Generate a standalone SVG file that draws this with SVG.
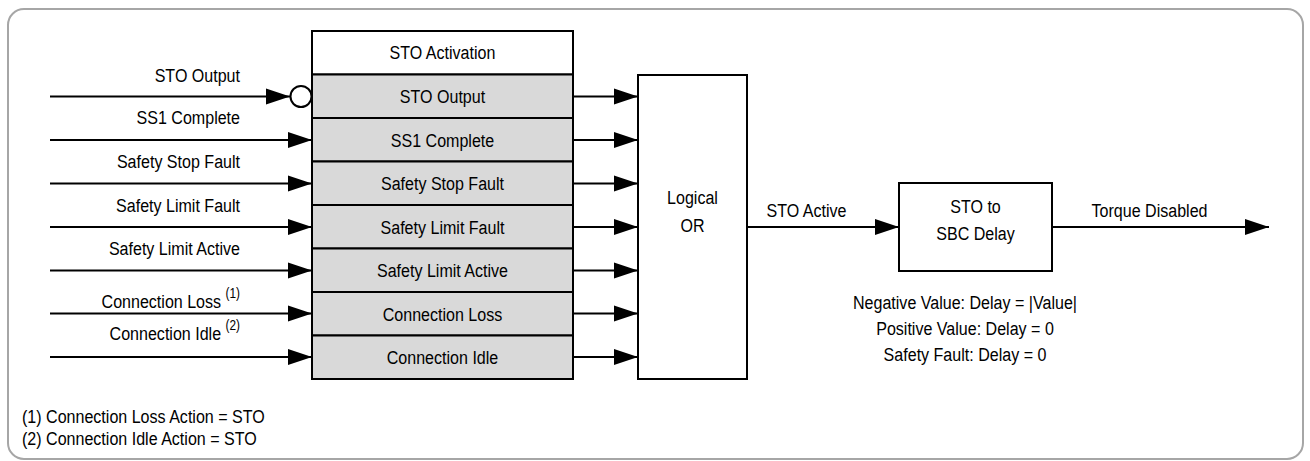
<svg xmlns="http://www.w3.org/2000/svg" width="1310" height="461" viewBox="0 0 1310 461">
<style>
text{font-family:"Liberation Sans",Arial,sans-serif;font-size:19px;fill:#000}
.c{text-anchor:middle}
.e{text-anchor:end}
.sup{font-size:14px}
.box{fill:#fff;stroke:#000;stroke-width:2}
.row{fill:#d9d9d9;stroke:#000;stroke-width:2}
.ln{stroke:#000;stroke-width:2;fill:none}
</style>
<defs>
<marker id="ah" markerUnits="userSpaceOnUse" markerWidth="25" markerHeight="18" viewBox="0 0 25 18" refX="24" refY="9" orient="auto">
<path d="M0,1 L24,9 L0,17 z" fill="#000"/>
</marker>
</defs>
<rect x="8" y="9" width="1295" height="450" rx="16" ry="16" fill="#fff" stroke="#a6a6a6" stroke-width="2"/>

<g id="sto-activation">
<rect class="box" x="312" y="31" width="261" height="43.5"/>
<rect class="row" x="312" y="74.5" width="261" height="43.5"/>
<rect class="row" x="312" y="118" width="261" height="43.5"/>
<rect class="row" x="312" y="161.5" width="261" height="43.5"/>
<rect class="row" x="312" y="205" width="261" height="43.5"/>
<rect class="row" x="312" y="248.5" width="261" height="43.5"/>
<rect class="row" x="312" y="292" width="261" height="43.5"/>
<rect class="row" x="312" y="335.5" width="261" height="43.5"/>
<text class="c" transform="translate(442.5 59) scale(.845 1)">STO Activation</text>
<text class="c" transform="translate(442.5 103) scale(.845 1)">STO Output</text>
<text class="c" transform="translate(442.5 146.5) scale(.845 1)">SS1 Complete</text>
<text class="c" transform="translate(442.5 190) scale(.845 1)">Safety Stop Fault</text>
<text class="c" transform="translate(442.5 233.5) scale(.845 1)">Safety Limit Fault</text>
<text class="c" transform="translate(442.5 277) scale(.845 1)">Safety Limit Active</text>
<text class="c" transform="translate(442.5 320.5) scale(.845 1)">Connection Loss</text>
<text class="c" transform="translate(442.5 364) scale(.845 1)">Connection Idle</text>
</g>

<g id="logical-or">
<rect class="box" x="638" y="75" width="109" height="304"/>
<text class="c" transform="translate(692.5 204) scale(.845 1)">Logical</text>
<text class="c" transform="translate(692.5 232) scale(.845 1)">OR</text>
</g>

<g id="sto-to-sbc-delay">
<rect class="box" x="899" y="183" width="153" height="88"/>
<text class="c" transform="translate(975.5 213) scale(.845 1)">STO to</text>
<text class="c" transform="translate(975.5 240) scale(.845 1)">SBC Delay</text>
</g>

<g id="connectors">
<line class="ln" x1="50" y1="96.5" x2="290" y2="96.5" marker-end="url(#ah)"/>
<circle cx="301" cy="96.5" r="10.5" fill="#fff" stroke="#000" stroke-width="2"/>
<line class="ln" x1="50" y1="140" x2="312" y2="140" marker-end="url(#ah)"/>
<line class="ln" x1="50" y1="183.5" x2="312" y2="183.5" marker-end="url(#ah)"/>
<line class="ln" x1="50" y1="227" x2="312" y2="227" marker-end="url(#ah)"/>
<line class="ln" x1="50" y1="270.5" x2="312" y2="270.5" marker-end="url(#ah)"/>
<line class="ln" x1="50" y1="313.5" x2="312" y2="313.5" marker-end="url(#ah)"/>
<line class="ln" x1="50" y1="357" x2="312" y2="357" marker-end="url(#ah)"/>

<line class="ln" x1="573" y1="96.5" x2="638" y2="96.5" marker-end="url(#ah)"/>
<line class="ln" x1="573" y1="140" x2="638" y2="140" marker-end="url(#ah)"/>
<line class="ln" x1="573" y1="183.5" x2="638" y2="183.5" marker-end="url(#ah)"/>
<line class="ln" x1="573" y1="227" x2="638" y2="227" marker-end="url(#ah)"/>
<line class="ln" x1="573" y1="270.5" x2="638" y2="270.5" marker-end="url(#ah)"/>
<line class="ln" x1="573" y1="313.5" x2="638" y2="313.5" marker-end="url(#ah)"/>
<line class="ln" x1="573" y1="357" x2="638" y2="357" marker-end="url(#ah)"/>

<line class="ln" x1="747" y1="227" x2="899" y2="227" marker-end="url(#ah)"/>
<line class="ln" x1="1052" y1="227" x2="1269" y2="227" marker-end="url(#ah)"/>
</g>

<g id="labels">
<text class="e" transform="translate(240 82) scale(.845 1)">STO Output</text>
<text class="e" transform="translate(240 124) scale(.845 1)">SS1 Complete</text>
<text class="e" transform="translate(240 168) scale(.845 1)">Safety Stop Fault</text>
<text class="e" transform="translate(240 212) scale(.845 1)">Safety Limit Fault</text>
<text class="e" transform="translate(240 255) scale(.845 1)">Safety Limit Active</text>
<text class="e" transform="translate(240 308) scale(.845 1)">Connection Loss <tspan class="sup" dy="-10">(1)</tspan></text>
<text class="e" transform="translate(240 340) scale(.845 1)">Connection Idle <tspan class="sup" dy="-10">(2)</tspan></text>
<text class="c" transform="translate(806.5 216.5) scale(.845 1)">STO Active</text>
<text class="c" transform="translate(1149.5 216.5) scale(.845 1)">Torque Disabled</text>
<text class="c" transform="translate(965 309) scale(.845 1)">Negative Value: Delay = |Value|</text>
<text class="c" transform="translate(965 335) scale(.845 1)">Positive Value: Delay = 0</text>
<text class="c" transform="translate(965 361) scale(.845 1)">Safety Fault: Delay = 0</text>
<text transform="translate(22 423) scale(.845 1)">(1) Connection Loss Action = STO</text>
<text transform="translate(22 445) scale(.845 1)">(2) Connection Idle Action = STO</text>
</g>
</svg>
